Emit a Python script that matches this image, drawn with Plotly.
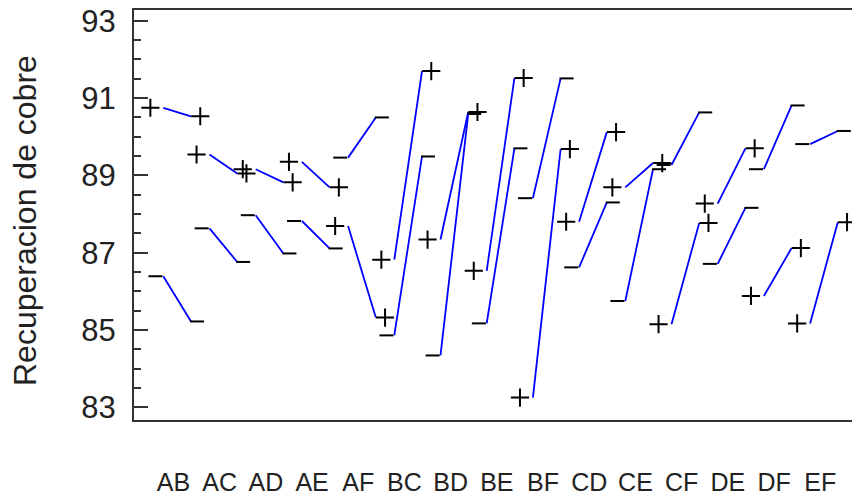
import plotly.graph_objects as go

# ---- data ----
pairs = ["AB", "AC", "AD", "AE", "AF", "BC", "BD", "BE", "BF", "CD", "CE", "CF", "DE", "DF", "EF"]
plus_low   = [90.75, 89.54, 89.16, 89.35, 87.69, 86.82, 87.34, 86.53, 83.25, 87.80, 88.69, 85.15, 88.27, 85.88, 85.17]
plus_high  = [90.53, 89.05, 88.82, 88.69, 85.32, 91.70, 90.64, 91.52, 89.68, 90.12, 89.32, 87.77, 89.70, 87.12, 87.79]
minus_low  = [86.39, 87.63, 87.97, 87.82, 89.46, 84.86, 84.34, 85.17, 88.41, 86.62, 85.75, 89.27, 86.71, 89.16, 89.81]
minus_high = [85.22, 86.76, 86.98, 87.11, 90.50, 89.49, 90.59, 89.70, 91.51, 88.30, 89.16, 90.63, 88.16, 90.81, 90.15]
y_ticks = [83, 85, 87, 89, 91, 93]
y_title = "Recuperacion de cobre"

# ---- layout constants ----
SEG = 0.6            # length of each interaction segment (x units)
PL, PR = 0.28, 0.20  # offset of "+" labels left / right of segment
ML, MR = 0.17, 0.13  # offset of "-" labels left / right of segment
LBL = 0.22           # position of the category label within its group
FONT = "Arial, Liberation Sans, sans-serif"

lx, ly = [], []
for k in range(len(pairs)):
    lx += [k, k + SEG, None, k, k + SEG, None]
    ly += [plus_low[k], plus_high[k], None, minus_low[k], minus_high[k], None]

px_, py_, mx_, my_ = [], [], [], []
for k in range(len(pairs)):
    px_ += [k - PL, k + SEG + PR]
    py_ += [plus_low[k], plus_high[k]]
    mx_ += [k - ML, k + SEG + MR]
    my_ += [minus_low[k], minus_high[k]]

fig = go.Figure()
fig.add_trace(go.Scatter(x=lx, y=ly, mode="lines",
                         line=dict(color="#0000FF", width=1.8),
                         hoverinfo="skip", showlegend=False))
fig.add_trace(go.Scatter(x=px_, y=py_, mode="markers",
                         marker=dict(symbol="cross-thin", size=13, color="black",
                                     line=dict(color="black", width=2)),
                         showlegend=False))
fig.add_trace(go.Scatter(x=mx_, y=my_, mode="markers",
                         marker=dict(symbol="line-ew", size=10, color="black",
                                     line=dict(color="black", width=2)),
                         showlegend=False))
# invisible trace to carry the right-hand tick axis
fig.add_trace(go.Scatter(x=[0], y=[88], yaxis="y2", mode="markers",
                         marker=dict(opacity=0), hoverinfo="skip", showlegend=False))

yr = [82.67, 93.28]
# the page body has an 8px default margin, so the figure is 8px smaller
fig.update_layout(
    width=852, height=490,
    margin=dict(l=126, r=0, t=2, b=78),
    paper_bgcolor="white", plot_bgcolor="white",
    font=dict(family=FONT, color="#222"),
    xaxis=dict(range=[-0.634, 15.08], showgrid=False, zeroline=False, automargin=False,
               showline=True, linecolor="#333", linewidth=2, mirror=True,
               ticks="", tickvals=[k + LBL for k in range(len(pairs))],
               ticktext=pairs, tickfont=dict(size=25, family=FONT, color="#222"),
               ticklabelstandoff=39, ticklabeloverflow="allow"),
    yaxis=dict(range=yr, showgrid=False, zeroline=False, automargin=False,
               showline=True, linecolor="#333", linewidth=2,
               ticks="inside", ticklen=14, tickwidth=2, tickcolor="#333",
               tickvals=y_ticks, tickfont=dict(size=31, family=FONT, color="#222"),
               ticklabelstandoff=10, ticklabeloverflow="allow",
               minor=dict(ticks="inside", ticklen=7, tickwidth=1.5, tickcolor="#333", dtick=0.5)),
    yaxis2=dict(range=yr, overlaying="y", side="right", showgrid=False, zeroline=False,
                automargin=False,
                showline=False, ticks="inside", ticklen=6, tickwidth=2, tickcolor="#333",
                tickvals=y_ticks, showticklabels=False,
                minor=dict(ticks="inside", ticklen=2, tickwidth=1, tickcolor="#777", dtick=0.5)),
    annotations=[dict(text=y_title, xref="paper", yref="paper", x=(25 - 134) / 726,
                      y=0.5 - 6 / 410,
                      xanchor="center", yanchor="middle", textangle=-90, showarrow=False,
                      font=dict(size=32, family=FONT, color="#222"))],
)

fig.write_html("out.html")
